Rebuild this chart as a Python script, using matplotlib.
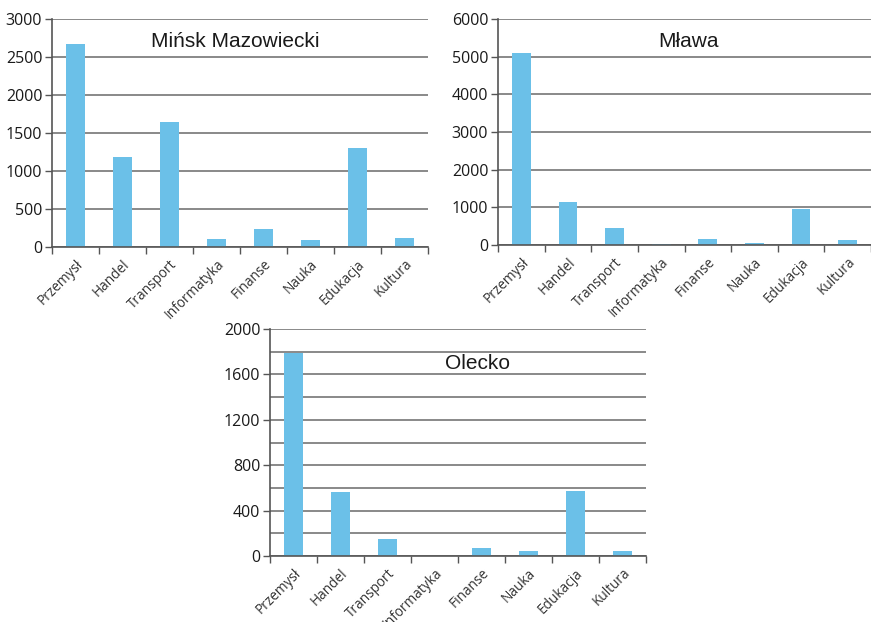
import numpy as np
import matplotlib
matplotlib.use("Agg")
import matplotlib.pyplot as plt
from matplotlib.ticker import MultipleLocator

categories = ["Przemysł", "Handel", "Transport", "Informatyka",
              "Finanse", "Nauka", "Edukacja", "Kultura"]

minsk = [2665, 1185, 1650, 110, 238, 88, 1298, 123]
mlawa = [5095, 1145, 460, 35, 150, 62, 948, 124]
olecko = [1785, 568, 153, 0, 68, 41, 576, 41]

W, H = 871, 622
BAR = "#6bc0e8"
GRID = "#808080"

fig = plt.figure(figsize=(W / 100, H / 100), dpi=100)


def px_axes(left, top, right, bottom):
    return fig.add_axes([left / W, 1 - bottom / H, (right - left) / W, (bottom - top) / H])


def draw(ax, values, title, ymax, major, minor, tx, ty):
    x = np.arange(len(categories))
    ax.bar(x, values, width=0.4, color=BAR, zorder=3)
    ax.set_xlim(-0.5, len(categories) - 0.5)
    ax.set_ylim(0, ymax)
    ax.yaxis.set_major_locator(MultipleLocator(major))
    ax.yaxis.set_minor_locator(MultipleLocator(minor))
    ax.grid(axis="y", which="both", color=GRID, linewidth=1.3, zorder=0)
    ax.set_xticks(x)
    ax.set_xticklabels(categories, rotation=45, ha="right", rotation_mode="anchor",
                       fontsize=9.8, family="Open Sans", color="#333333")
    ax.set_xticks(np.arange(len(categories) + 1) - 0.5, minor=True)
    ax.tick_params(axis="x", which="major", length=0, pad=7)
    ax.tick_params(axis="x", which="minor", length=5, width=1, color="#555555")
    ax.tick_params(axis="y", which="major", length=5, width=1, color="#555555",
                   labelsize=11.5, pad=2, labelcolor="#1a1a1a")
    ax.tick_params(axis="y", which="minor", length=0)
    for lab in ax.get_yticklabels():
        lab.set_family("Open Sans")
    for s in ("top", "right"):
        ax.spines[s].set_visible(False)
    for s in ("left", "bottom"):
        ax.spines[s].set_color("#555555")
        ax.spines[s].set_linewidth(1.2)
        ax.spines[s].set_zorder(4)
    ax.text(tx, ty, title, transform=ax.transAxes, ha="center", va="center",
            fontsize=15, family="Liberation Sans", color="#1a1a1a")


ax1 = px_axes(52, 19, 428, 247)
draw(ax1, minsk, "Mińsk Mazowiecki", 3000, 500, 500, 0.487, 0.90)

ax2 = px_axes(498, 19, 871, 245)
draw(ax2, mlawa, "Mława", 6000, 1000, 1000, 0.51, 0.90)

ax3 = px_axes(270, 329, 646, 556)
draw(ax3, olecko, "Olecko", 2000, 400, 200, 0.553, 0.85)

fig.savefig("out.png", dpi=100)
